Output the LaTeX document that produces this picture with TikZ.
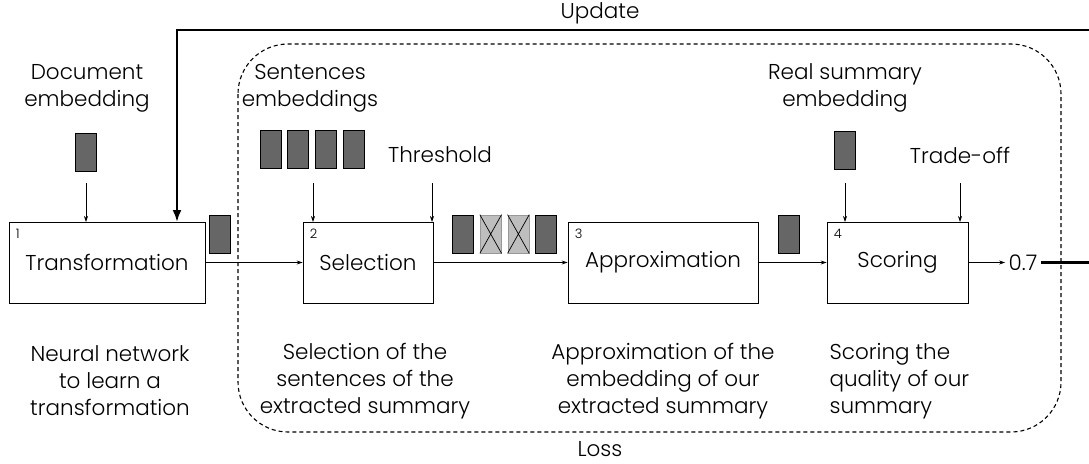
\documentclass[tikz,border=0pt]{standalone}
\usepackage{fontspec}
\setmainfont{Poppins}[UprightFont=* Light]
\usetikzlibrary{arrows.meta, positioning}
\definecolor{embgray}{RGB}{102, 102, 102}
\definecolor{dropgray}{RGB}{190, 190, 190}

\begin{document}
\begin{tikzpicture}[x=1pt, y=-1pt,
    stage/.style={draw, line width=0.8pt, minimum height=81pt, inner sep=0pt, font=\fontsize{21.5}{26}\selectfont},
    stagenum/.style={anchor=north west, inner sep=7pt, font=\fontsize{13}{15}\selectfont},
    emb/.style={draw, line width=0.7pt, fill=embgray, minimum width=21pt, minimum height=38pt, inner sep=0pt},
    dropped/.style={emb, fill=dropgray, draw=dropgray!80!black},
    txt/.style={align=center, font=\fontsize{21.5}{27}\selectfont},
    flow/.style={-{Stealth[length=6pt, width=4pt]}, line width=0.7pt}]
  \useasboundingbox (0,0) rectangle (1089,463);

  % Loss region
  \draw[dash pattern=on 4pt off 3pt, line width=1.1pt, rounded corners=50pt] (238,44) rectangle (1061,432);
  \node[txt, inner sep=1pt] (loss) at (600,449) {Loss};

  % Stages
  \node[stage, minimum width=196pt] (trans) at (107,262.5) {Transformation};
  \node[stage, minimum width=130pt] (sel) at (368,262.5) {Selection};
  \node[stage, minimum width=190pt] (approx) at (663,262.5) {Approximation};
  \node[stage, minimum width=141pt] (score) at (897.5,262.5) {Scoring};
  \node[stagenum] at (trans.north west) {1};
  \node[stagenum] at (sel.north west) {2};
  \node[stagenum] at (approx.north west) {3};
  \node[stagenum] at (score.north west) {4};

  % Inputs
  \node[txt] (doclbl) at (87,88) {Document\\embedding};
  \node[emb] (doc) at (86,152) {};
  \node[txt] (sentlbl) at (310,88) {Sentences\\embeddings};
  \node[emb] (s1) at (270.5,149) {};
  \node[emb, right=6pt of s1] (s2) {};
  \node[emb, right=6pt of s2] (s3) {};
  \node[emb, right=6pt of s3] (s4) {};
  \node[txt] (thr) at (440,155) {Threshold};
  \node[txt] (reallbl) at (845,88) {Real summary\\embedding};
  \node[emb] (real) at (844.5,150) {};
  \node[txt] (trade) at (960,155) {Trade-off};

  % Intermediate embeddings
  \node[emb] (out1) at (220,234) {};
  \node[emb] (k1) at (463,234) {};
  \node[dropped, right=6pt of k1] (d1) {};
  \node[dropped, right=6pt of d1] (d2) {};
  \node[emb, right=6pt of d2] (k2) {};
  \draw[line width=0.7pt] (d1.north west) -- (d1.south east) (d1.south west) -- (d1.north east);
  \draw[line width=0.7pt] (d2.north west) -- (d2.south east) (d2.south west) -- (d2.north east);
  \node[emb] (out3) at (788.5,234) {};

  % Score
  \node[txt] (val) at (1023,262.5) {0.7};
  \coordinate (edgeR) at (1089,262.5);
  \coordinate (edgeT) at (1089,30);

  % Arrows
  \draw[flow] (86,183) -- (86,222);
  \draw[flow] (313,183) -- (313,222);
  \draw[flow] (432,183) -- (432,222);
  \draw[flow] (845,183) -- (845,222);
  \draw[flow] (960,183) -- (960,222);
  \draw[flow] (trans.east) -- (sel.west);
  \draw[flow] (sel.east) -- (approx.west);
  \draw[flow] (approx.east) -- (score.west);
  \draw[flow] (score.east) -- (val.west);

  % Update loop
  \draw[line width=2.2pt] (val.east) -- (edgeR);
  \draw[line width=2.2pt, -{Latex[length=12pt, width=9pt]}] (edgeT) -| (177,222);
  \node[txt] (upd) at (600,13) {Update};

  % Descriptions
  \node[txt] (d1txt) at (110,381) {Neural network\\to learn a\\transformation};
  \node[txt] (d2txt) at (365,381) {Selection of the\\sentences of the\\extracted summary};
  \node[txt] (d3txt) at (663,381) {Approximation of the\\embedding of our\\extracted summary};
  \node[txt, align=left, anchor=west] (d4txt) at (826,381) {Scoring the\\quality of our\\summary};
\end{tikzpicture}
\end{document}
